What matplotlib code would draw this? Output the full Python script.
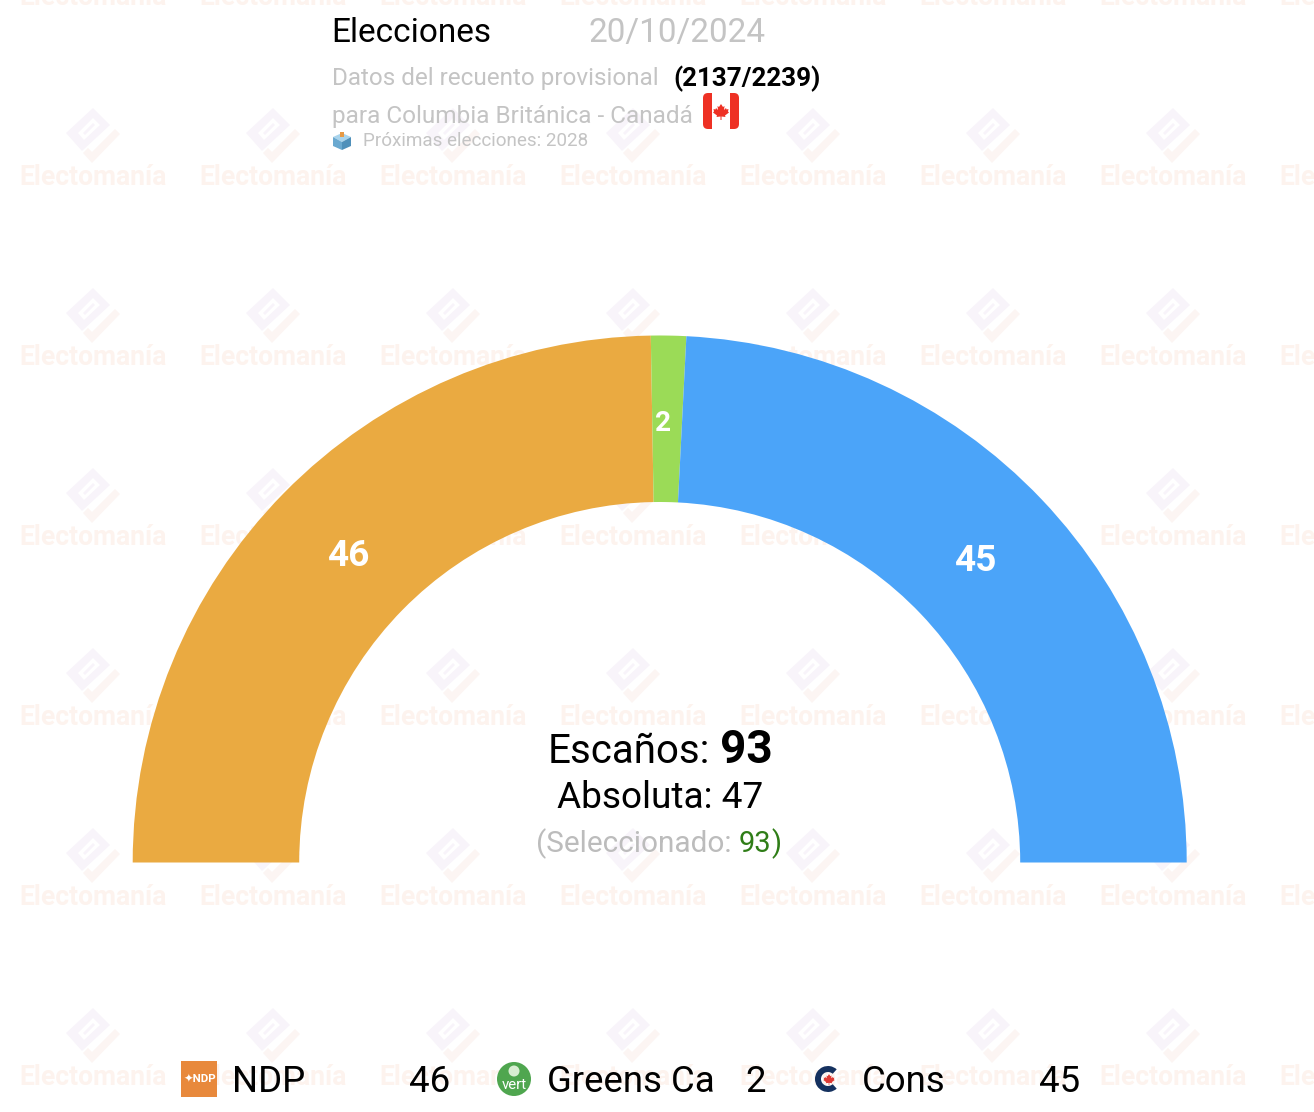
import numpy as np
import matplotlib as mp
mp.use('Agg')
import matplotlib.pyplot as plt
from matplotlib.patches import Wedge, Polygon, Rectangle, Circle, FancyBboxPatch

mp.rcParams['font.family'] = ['Roboto', 'DejaVu Sans']

parties = ['NDP', 'Greens Ca', 'Cons']
seats = [46, 2, 45]
colors = ['#EAAA41', '#9BDB57', '#4BA4F9']
total_seats = 93
majority = 47
selected = 93
counted = '(2137/2239)'
date = '20/10/2024'

W, H = 1314, 1112
fig = plt.figure(figsize=(W / 100, H / 100), dpi=100)
ax = fig.add_axes([0, 0, 1, 1])
ax.set_xlim(0, W)
ax.set_ylim(0, H)
ax.axis('off')


# everything below is placed in picture pixels, y counted from the top
def yy(y):
    return H - y


def txt(x, y, s, px, color='black', weight='normal', ha='left', va='baseline', z=5):
    return ax.text(x, yy(y), s, fontsize=px * 0.72, color=color, fontweight=weight,
                   ha=ha, va=va, zorder=z)


def poly(pts, color, z=1, alpha=1.0):
    ax.add_patch(Polygon([(x, yy(y)) for x, y in pts], closed=True, fc=color,
                         ec='none', zorder=z, alpha=alpha))


# watermark
def watermark(cx, cy):
    poly([(cx - 27, cy - 2), (cx, cy - 27), (cx + 17, cy - 10), (cx - 11, cy + 16)], '#f8f4fa')
    poly([(cx - 15, cy - 2), (cx, cy - 17), (cx + 7, cy - 10), (cx - 9, cy + 5)], 'white', z=1.1)
    poly([(cx - 10, cy - 2), (cx, cy - 12), (cx + 2, cy - 10), (cx - 8, cy)], '#f8f4fa', z=1.2)
    poly([(cx + 22, cy - 6), (cx + 27, cy - 1), (cx - 1, cy + 28), (cx - 10, cy + 18),
          (cx - 5, cy + 13), (cx - 1, cy + 17)], '#fcf5f3')


for tx in range(93, 1400, 180):
    for ty in range(-45, 1100, 180):
        watermark(tx, ty)
        ax.text(tx - 74, yy(ty + 50), 'Electomanía', fontsize=26.5 * 0.72, color='#fdf3ee',
                fontweight='bold', ha='left', va='baseline', zorder=1)

# hemicycle
cx, cy = 659.7, 862.5
r_out, r_in = 527, 360.5
start = 180.0
label_pos = [(348, 566), (663, 431), (975, 571)]
label_size = [37, 28, 37]
for n, c, pos, sz in zip(seats, colors, label_pos, label_size):
    sweep = n / sum(seats) * 180
    ax.add_patch(Wedge((cx, yy(cy)), r_out, start - sweep, start, width=r_out - r_in,
                       fc=c, ec='none', zorder=2))
    txt(pos[0], pos[1], str(n), sz, color='white', weight='bold', ha='center')
    start -= sweep

# header
txt(331, 42, 'Elecciones', 33.4)
txt(589, 42, date, 33.3, color='#c4c4c4')
txt(331.5, 85.5, 'Datos del recuento provisional', 24.2, color='#c4c4c4')
txt(673.5, 86, counted, 26, weight='bold')
txt(331.5, 123, 'para Columbia Británica - Canadá', 24.4, color='#c4c4c4')
txt(363, 146, 'Próximas elecciones: 2028', 18.9, color='#c4c4c4')

# flag
ax.add_patch(FancyBboxPatch((703, yy(129)), 36, 36, boxstyle='round,pad=0,rounding_size=5',
                            fc='#EE3124', ec='none', zorder=4))
ax.add_patch(Rectangle((712, yy(129)), 18, 36, fc='white', ec='none', zorder=4.1))
fx, fy = 721, 111
leaf = [(0, -7), (2, -4), (3.5, -5), (3, -1), (5, -3), (5.5, -1.5), (7.5, -2), (7, 0.5), (8, 1.5),
        (4, 4.5), (4.5, 6), (0.5, 5.5), (0.5, 9), (-0.5, 9), (-0.5, 5.5), (-4.5, 6), (-4, 4.5),
        (-8, 1.5), (-7, 0.5), (-7.5, -2), (-5.5, -1.5), (-5, -3), (-3, -1), (-3.5, -5), (-2, -4)]
poly([(fx + a, fy + b) for a, b in leaf], '#EE3124', z=4.2)

# ballot box
poly([(333, 137), (342, 133), (351, 137), (342, 142)], '#a9d4ec', z=4)
poly([(333, 137), (342, 142), (342, 150), (333, 146)], '#6aa9d0', z=4)
poly([(351, 137), (342, 142), (342, 150), (351, 146)], '#4f90ba', z=4)
ax.add_patch(Rectangle((340, yy(137)), 4, 5, fc='#e79a45', ec='none', zorder=4.1))

# centre text
txt(548, 763, 'Escaños:', 40.2)
txt(720, 763, str(total_seats), 46, weight='bold')
txt(557, 808, 'Absoluta: ' + str(majority), 37)
txt(536, 852, '(Seleccionado:', 29.7, color='#bcbcbc')
txt(739, 852, str(selected), 29, color='#2f7d17')
txt(771, 852, ')', 29, color='#2f7d17')

# legend
legend_name_x = [232, 547, 862]
legend_num_x = [409.5, 745, 1039.5]
for name, n, x1, x2 in zip(parties, seats, legend_name_x, legend_num_x):
    txt(x1, 1092, name, 36.6)
    txt(x2, 1092, str(n), 36.6)

# legend icons
ax.add_patch(Rectangle((181, yy(1097)), 36, 36, fc='#E8893C', ec='none', zorder=4))
txt(199.5, 1079, '✦NDP', 11.5, color='white', weight='bold', ha='center', va='center')
ax.add_patch(Circle((514, yy(1079)), 17, fc='#4FA64F', ec='none', zorder=4))
ax.add_patch(Circle((514, yy(1071)), 5.5, fc='#d8edd2', ec='none', zorder=4.1))
txt(514, 1089, 'vert', 15, color='white', ha='center')
ax.add_patch(Wedge((828, yy(1079)), 13, 48, 312, width=6, fc='#15315F', ec='none', zorder=4))
poly([(829 + a * 0.7, 1079 + b * 0.7) for a, b in leaf], '#DE3A34', z=4.1)

fig.savefig('out.png', dpi=100, facecolor='white')
